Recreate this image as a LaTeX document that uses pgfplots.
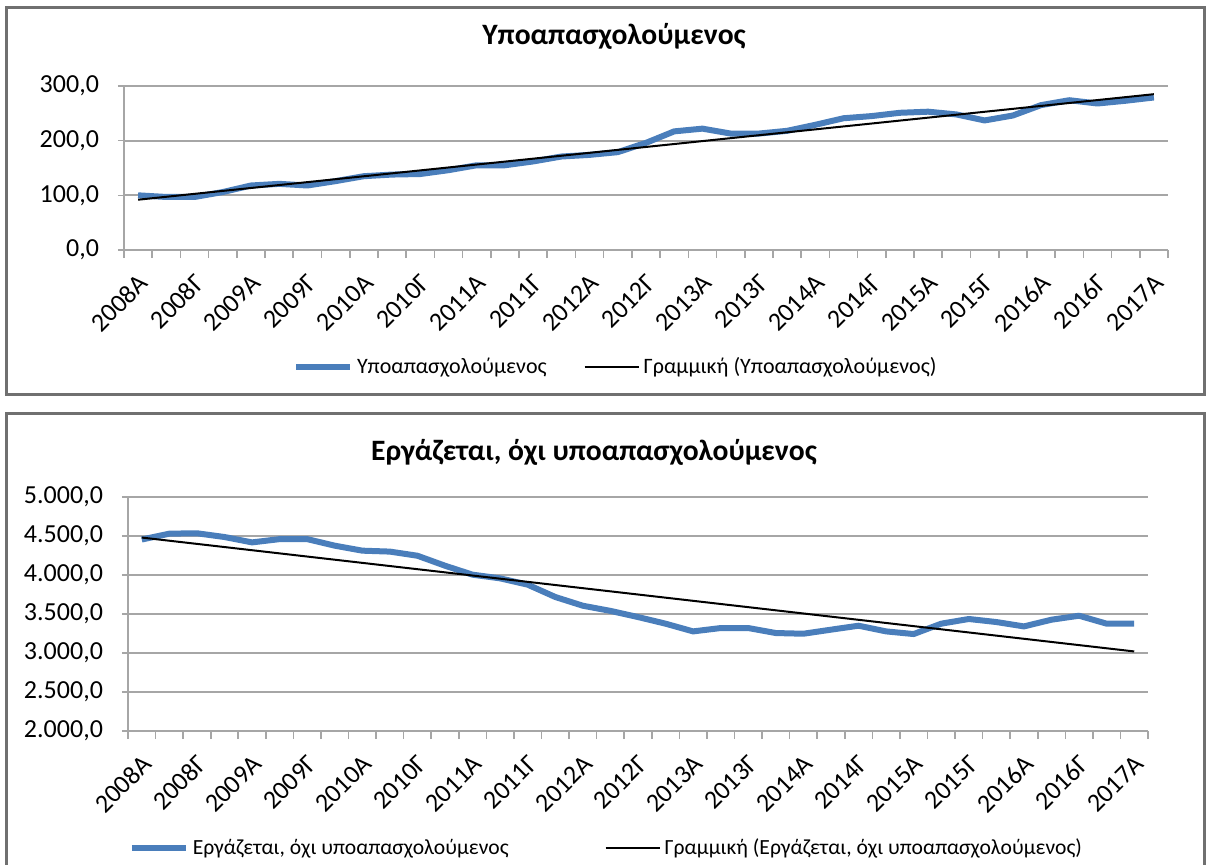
\documentclass[border=0pt]{standalone}
\usepackage{fontspec}
\setmainfont{Carlito}
\usepackage{pgfplots}
\pgfplotsset{compat=1.18}
\definecolor{serblue}{RGB}{74,126,187}
\definecolor{gridgray}{RGB}{166,166,166}
\definecolor{framegray}{RGB}{112,112,112}

\pgfplotsset{
 exstyle/.style={
  scale only axis, anchor=south west,
  axis lines=left, axis line style={-, draw=gridgray, line width=1pt},
  xmin=-0.5, xmax=36.5,
  xtick={0,2,...,36},
  xticklabels={2008Α,2008Γ,2009Α,2009Γ,2010Α,2010Γ,2011Α,2011Γ,2012Α,2012Γ,2013Α,2013Γ,2014Α,2014Γ,2015Α,2015Γ,2016Α,2016Γ,2017Α},
  minor xtick={-0.5,0.5,...,36.5},
  major x tick style={draw=none},
  minor x tick style={draw=gridgray, line width=0.8pt},
  tick align=outside,
  minor tick length=4pt,
  major tick length=3pt,
  major y tick style={draw=gridgray, line width=0.8pt},
  ymajorgrids, grid style={draw=gridgray, line width=1pt},
  xticklabel style={xshift=5pt, yshift=-9pt, rotate=45, anchor=east, font=\fontsize{13}{13}\selectfont},
  yticklabel style={xshift=-6pt, font=\fontsize{13}{13}\selectfont},
  yticklabel={\pgfmathprintnumber[fixed,fixed zerofill,precision=1,use comma,1000 sep={.},assume math mode=true]{\tick}},
  legend columns=2,
  legend image code/.code={\draw[##1] (0pt,0pt) -- (27pt,0pt);},
  every axis plot/.append style={line join=round},
 }
}

\begin{document}
\begin{tikzpicture}
\path[use as bounding box] (0,0) rectangle (603pt,432pt);
\draw[framegray, line width=1.5pt] (3pt,235pt) rectangle (602pt,428pt);
\draw[framegray, line width=1.5pt] (3pt,-5pt) -- (3pt,225.5pt) -- (602pt,225.5pt) -- (602pt,-5pt);
\node[font=\bfseries\fontsize{14.8}{14.8}\selectfont] at (307pt,414pt) {Υποαπασχολούμενος};
\node[font=\bfseries\fontsize{14.8}{14.8}\selectfont] at (297pt,206pt) {Εργάζεται, όχι υποαπασχολούμενος};

\begin{axis}[exstyle, at={(62pt,307pt)}, width=522pt, height=82pt,
  ymin=0, ymax=300, ytick={0,100,200,300},
  legend style={draw=none, fill=none, at={(0.472,-0.713)}, anchor=center,
    font=\fontsize{11}{11}\selectfont,
    /tikz/every even column/.append style={column sep=16.5pt}}]
\addplot[serblue, line width=3pt] coordinates {
(0,100) (1,97) (2,97) (3,106) (4,118) (5,121) (6,118) (7,126) (8,135) (9,138)
(10,139) (11,146) (12,155) (13,155) (14,162) (15,171) (16,174) (17,179) (18,196) (19,217)
(20,222) (21,213) (22,213) (23,218) (24,229) (25,241) (26,245) (27,251) (28,253) (29,248)
(30,237) (31,246) (32,265) (33,274) (34,268) (35,273) (36,279)};
\addlegendentry{Υποαπασχολούμενος}
\addplot[black, line width=1pt] coordinates {(0,92) (36,285)};
\addlegendentry{Γραμμική (Υποαπασχολούμενος)}
\end{axis}

\begin{axis}[exstyle, at={(64pt,66.5pt)}, width=510pt, height=117pt,
  ymin=2000, ymax=5000, ytick={2000,2500,...,5000},
  legend style={draw=none, fill=none, at={(0.47,-0.5)}, anchor=center,
    font=\fontsize{10.8}{10.8}\selectfont,
    /tikz/every even column/.append style={column sep=46pt}}]
\addplot[serblue, line width=3pt] coordinates {
(0,4455) (1,4530) (2,4535) (3,4487) (4,4418) (5,4460) (6,4460) (7,4376) (8,4312) (9,4300)
(10,4247) (11,4119) (12,4004) (13,3957) (14,3876) (15,3718) (16,3606) (17,3540) (18,3461) (19,3376)
(20,3277) (21,3320) (22,3320) (23,3256) (24,3247) (25,3299) (26,3350) (27,3277) (28,3243) (29,3376)
(30,3436) (31,3397) (32,3341) (33,3427) (34,3478) (35,3376) (36,3376)};
\addlegendentry{Εργάζεται, όχι υποαπασχολούμενος}
\addplot[black, line width=1pt] coordinates {(0,4480) (36,3020)};
\addlegendentry{Γραμμική (Εργάζεται, όχι υποαπασχολούμενος)}
\end{axis}
\end{tikzpicture}
\end{document}
